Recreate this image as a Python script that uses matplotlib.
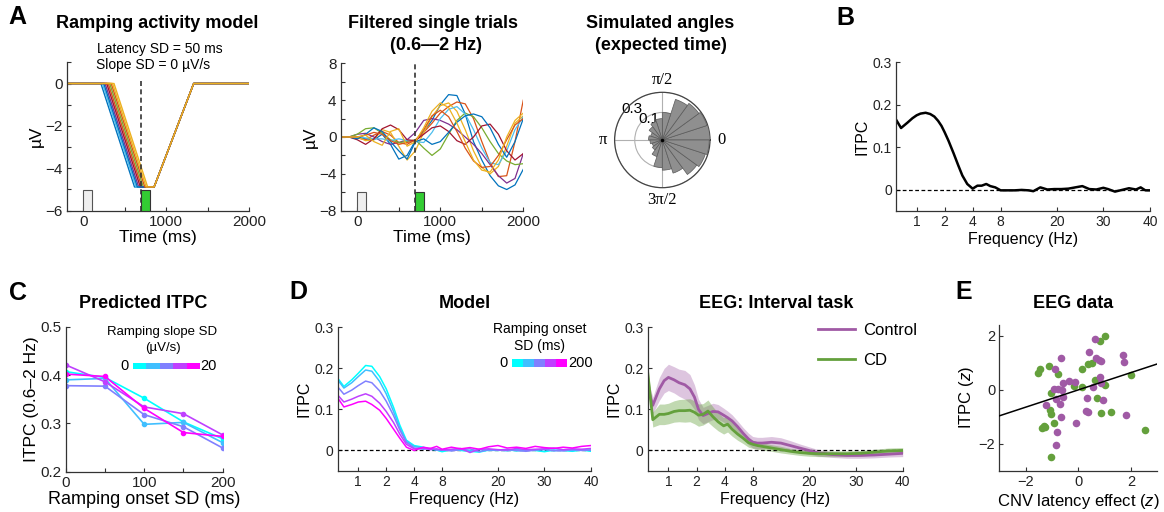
import numpy as np
import matplotlib
matplotlib.use('Agg')
import matplotlib.pyplot as plt
import matplotlib.patches as patches
from matplotlib.colors import ListedColormap

plt.rcParams['font.family'] = ['Liberation Sans', 'DejaVu Sans']
plt.rcParams['mathtext.fontset'] = 'custom'
plt.rcParams['mathtext.rm'] = 'Liberation Sans'
plt.rcParams['mathtext.it'] = 'Liberation Sans:italic'

# ---------------- data ----------------
matlab_colors = ['#0072BD', '#D95319', '#EDB120', '#7E2F8E', '#77AC30', '#4DBEEE', '#A2142F']
cool5 = ['#00FFFF', '#40BFFF', '#8080FF', '#BF40FF', '#FF00FF']

# A: ramping model (ms, uV)
ramp_onsets = [212, 300, 370, 262, 318, 230, 282, 246, 336, 352]
ramp_dur = 405
ramp_depth = -4.88
return_start = 853
return_end = 1330

# A: filtered single trials, sampled every 100 ms
trial_t = [-200, -100, 0, 100, 200, 300, 400, 500, 600, 700, 800, 900, 1000,
           1100, 1200, 1300, 1400, 1500, 1600, 1700, 1800, 1900, 2000]
trial_v = [
    [0, 0, 0, -0.2, -0.3, 0.3, -0.8, -2.4, -2.0, -0.4, 0.6, 1.8, 3.5, 4.6, 4.5, 2.5, -0.5, -2.5, -4.2, -5.3, -5.7, -5.2, -3.5],
    [0, 0, -0.1, -0.3, 0.2, 0.6, 0.2, -0.6, -0.8, -0.3, 0.5, 1.5, 2.6, 3.3, 3.8, 3.6, 2.0, -0.5, -2.8, -4.3, -4.2, -0.5, 4.0],
    [0, 0, 0, -0.4, -0.3, 0.8, 0.5, -1.0, -2.5, -1.5, 0.5, 2.2, 3.4, 3.7, 2.8, 0.8, -1.5, -3.3, -4.0, -3.2, -1.0, 1.5, 2.3],
    [0, 0, 0.3, 0.4, 0.0, -0.5, -0.8, -0.6, -0.3, 0.5, 1.8, 2.0, 1.8, 1.4, 0.8, 0.0, -0.8, -1.8, -3.0, -4.2, -5.0, -4.5, -1.8],
    [0, 0, 0.3, 0.9, 1.0, 0.4, -0.3, -0.6, -0.5, -0.3, -1.2, -2.0, -1.3, 0.3, 1.8, 2.6, 2.2, 1.0, -0.5, -1.8, -2.6, -3.0, -2.9],
    [0, 0, 0, -0.1, -0.2, -0.2, -0.4, -0.2, -0.4, -0.5, -0.6, 0.5, 2.0, 3.0, 3.3, 2.5, 0.8, -1.2, -2.8, -3.0, -1.5, 0.8, 2.2],
    [0, 0, -0.3, -0.8, -0.2, 0.9, 1.3, 0.8, -0.3, -0.4, 0.3, 1.0, 1.2, 0.6, -0.4, -0.8, 0.0, 1.2, 1.4, 0.3, -1.5, -2.5, -1.8],
    [0, 0, -0.2, 0.3, 1.0, 0.6, -0.5, -1.5, -2.4, -0.5, -0.2, -0.8, -0.5, 0.5, 1.6, 2.3, 2.5, 2.2, 1.0, -0.8, -2.2, -0.5, 2.0],
    [0, 0, 0, 0.2, 0.5, 0.3, -0.4, -0.8, -0.6, -0.4, 0.8, 2.3, 2.9, 2.2, 0.6, -1.2, -2.6, -3.3, -3.2, -2.0, -0.3, 1.3, 2.0],
    [0, 0, 0, 0.2, -0.5, -0.9, 0.6, 0.9, -1.0, -0.5, 1.0, 2.8, 3.7, 3.2, 1.5, -0.5, -2.5, -3.6, -3.8, -2.5, 0.0, 1.8, 2.6],
]

# A: simulated phase angles (20 bins)
angle_bins_deg = [9, 27, 45, 63, 81, 99, 117, 135, 153, 171, 189, 207, 225, 243, 261, 279, 297, 315, 333, 351]
angle_prob = [0.30, 0.29, 0.27, 0.24, 0.10, 0.06, 0.05, 0.035, 0.02, 0.025,
              0.02, 0.015, 0.02, 0.04, 0.10, 0.12, 0.16, 0.24, 0.27, 0.29]

# B: model ITPC spectrum
freq_b = [0.6, 0.68, 0.8, 0.9, 1.0, 1.1, 1.25, 1.4, 1.55, 1.7, 1.85, 2.0, 2.2, 2.5, 2.8, 3.1, 3.5,
          4.0, 4.5, 5.0, 5.6, 6.2, 7.0, 8.0, 9.5, 11, 12.5, 14, 15, 16.5, 18, 19.5, 21, 22.5, 24,
          25.5, 27, 28.5, 30, 31, 32.5, 34, 35.5, 37, 38, 39, 40]
itpc_b = [0.165, 0.145, 0.158, 0.168, 0.175, 0.179, 0.181, 0.178, 0.172, 0.162, 0.150, 0.135,
          0.115, 0.085, 0.057, 0.033, 0.013, 0.002, 0.009, 0.009, 0.013, 0.008, 0.005, -0.002,
          -0.002, -0.002, -0.001, -0.002, -0.004, 0.005, 0.000, 0.001, 0.001, 0.002, 0.005,
          0.008, 0.001, 0.000, 0.004, 0.001, -0.005, -0.001, 0.003, 0.000, 0.005, -0.002, -0.002]

# C: predicted ITPC vs onset SD, one line per slope SD (0, 5, 10, 15, 20)
onset_sd = [0, 50, 100, 150, 200]
pred_itpc = [
    [0.407, 0.395, 0.352, 0.303, 0.268],
    [0.390, 0.393, 0.298, 0.302, 0.260],
    [0.378, 0.377, 0.318, 0.293, 0.249],
    [0.421, 0.386, 0.334, 0.320, 0.276],
    [0.402, 0.397, 0.331, 0.281, 0.273],
]

# D: model spectra, one line per onset SD (0 .. 200 ms)
freq_d = [0.6, 0.7, 0.85, 1.0, 1.2, 1.4, 1.7, 2.0, 2.4, 2.8, 3.3, 4, 5, 6, 7, 8, 10, 12, 14, 16,
          18, 20, 22, 24, 26, 28, 30, 32, 34, 36, 38, 40]
model_itpc = [
    [0.176, 0.156, 0.172, 0.188, 0.207, 0.205, 0.180, 0.150, 0.105, 0.062, 0.025, 0.012, 0.008, 0.003, 0.001, -0.003,
     0.002, 0.000, -0.002, -0.004, 0.001, 0.000, 0.002, -0.001, 0.001, 0.000, -0.003, 0.001, 0.000, -0.002, 0.001, -0.002],
    [0.172, 0.152, 0.165, 0.180, 0.196, 0.193, 0.168, 0.138, 0.095, 0.055, 0.022, 0.010, 0.006, 0.004, 0.002, 0.001,
     0.000, 0.003, -0.001, 0.002, 0.000, 0.001, -0.001, 0.002, 0.000, 0.001, 0.002, -0.001, 0.001, 0.000, 0.002, 0.001],
    [0.155, 0.137, 0.147, 0.158, 0.169, 0.165, 0.145, 0.120, 0.085, 0.050, 0.020, 0.006, 0.003, 0.005, 0.001, 0.002,
     -0.001, 0.002, 0.004, -0.003, 0.002, 0.001, 0.003, 0.000, -0.002, 0.001, 0.003, 0.000, -0.001, 0.002, 0.000, 0.001],
    [0.135, 0.118, 0.125, 0.132, 0.138, 0.132, 0.115, 0.095, 0.068, 0.040, 0.015, 0.004, 0.006, 0.002, 0.004, 0.001,
     0.003, 0.005, -0.005, 0.003, 0.004, 0.002, 0.001, 0.005, 0.002, 0.003, 0.004, 0.006, 0.002, 0.004, 0.003, 0.005],
    [0.128, 0.106, 0.112, 0.118, 0.120, 0.112, 0.098, 0.078, 0.052, 0.030, 0.008, 0.000, 0.008, 0.005, 0.010, 0.003,
     0.008, 0.004, 0.007, 0.003, 0.009, 0.012, 0.006, 0.008, 0.005, 0.010, 0.007, 0.005, 0.008, 0.006, 0.010, 0.012],
]

# D: EEG interval task (mean and SEM)
freq_eeg = [0.6, 0.68, 0.8, 0.9, 1.0, 1.15, 1.3, 1.5, 1.7, 1.9, 2.1, 2.35, 2.65, 3.0, 3.4, 3.9, 4.3, 4.8,
            5.5, 6.3, 7.2, 8, 9, 10, 12, 14, 16, 18, 20, 22, 25, 28, 31, 34, 37, 40]
control_mean = [0.155, 0.110, 0.150, 0.170, 0.178, 0.172, 0.165, 0.160, 0.150, 0.130, 0.100, 0.085,
                0.090, 0.095, 0.094, 0.086, 0.080, 0.072, 0.058, 0.042, 0.028, 0.020, 0.018, 0.018,
                0.020, 0.018, 0.012, 0.006, 0.000, -0.006, -0.010, -0.012, -0.012, -0.011, -0.009, -0.007]
control_sem = [0.020, 0.020, 0.028, 0.030, 0.032, 0.032, 0.033, 0.035, 0.035, 0.030, 0.025, 0.020,
               0.020, 0.020, 0.018, 0.017, 0.016, 0.015, 0.014, 0.014, 0.014, 0.014, 0.014, 0.014,
               0.014, 0.013, 0.012, 0.010, 0.009, 0.008, 0.007, 0.007, 0.007, 0.007, 0.007, 0.008]
cd_mean = [0.190, 0.075, 0.088, 0.088, 0.090, 0.095, 0.097, 0.097, 0.098, 0.093, 0.086, 0.088,
           0.096, 0.082, 0.070, 0.060, 0.064, 0.052, 0.040, 0.030, 0.019, 0.015, 0.012, 0.010,
           0.006, 0.002, -0.002, -0.005, -0.007, -0.008, -0.008, -0.008, -0.007, -0.004, -0.001, 0.000]
cd_sem = [0.015, 0.018, 0.025, 0.025, 0.025, 0.026, 0.027, 0.028, 0.028, 0.028, 0.027, 0.026,
          0.027, 0.024, 0.022, 0.020, 0.019, 0.017, 0.015, 0.013, 0.011, 0.010, 0.009, 0.009,
          0.008, 0.008, 0.007, 0.007, 0.007, 0.007, 0.007, 0.007, 0.007, 0.007, 0.007, 0.007]

# E: EEG data (z-scores)
cnv_green = [1.02, 0.81, -1.45, -1.54, -1.10, -0.78, 0.13, 0.36, 0.52, 0.65, -0.16, 0.13, 1.03,
             2.00, -1.03, -1.08, -1.05, -0.93, -1.32, -1.26, -1.39, 0.71, 0.88, 1.24, 2.53, -1.05]
itpc_green = [1.98, 1.80, 0.78, 0.64, 0.88, 0.58, 0.76, 0.94, 1.00, 0.36, 0.15, 0.12, 0.17,
              0.54, -0.12, -0.74, -0.89, -1.22, -1.35, -1.38, -1.42, -0.30, -0.87, -0.80, -1.48, -2.48]
cnv_purple = [0.62, 0.40, -0.66, 1.69, 1.74, 0.68, 0.77, 0.88, -0.89, -0.58, -0.35, -0.12, 0.84,
              0.57, 0.85, -0.93, -0.76, -0.62, -0.84, -0.57, -0.71, -1.21, 0.34, 0.92, 0.30, 0.37,
              -0.67, -0.09, 1.81, -0.80, -0.84]
itpc_purple = [1.88, 1.40, 1.17, 1.28, 1.05, 1.19, 1.09, 1.06, 0.78, 0.27, 0.32, 0.31, 0.48,
               0.11, 0.27, 0.05, 0.05, 0.00, -0.34, -0.28, -0.54, -0.56, -0.30, -0.38, -0.77, -0.80,
               -1.01, -1.22, -0.92, -1.54, -2.05]
fit_slope = 0.32
fit_intercept = 0.0

# ---------------- layout helpers ----------------
W, H = 1164, 512
fig = plt.figure(figsize=(W / 100, H / 100), dpi=100)
AX_COL = '#333333'
purple = '#A05AA5'
green = '#64A03C'
freq_ticks = [1, 2, 4, 8, 20, 30, 40]


def px_axes(l, r, t, b, **kw):
    return fig.add_axes([l / W, 1 - b / H, (r - l) / W, (b - t) / H], **kw)


def ftext(x, y, s, **kw):
    kw.setdefault('ha', 'center')
    kw.setdefault('va', 'center')
    return fig.text(x / W, 1 - y / H, s, **kw)


def style(ax, size=10):
    for s in ['top', 'right']:
        ax.spines[s].set_visible(False)
    for s in ['left', 'bottom']:
        ax.spines[s].set_color(AX_COL)
        ax.spines[s].set_linewidth(0.9)
    ax.tick_params(direction='in', length=3, width=0.8, colors=AX_COL,
                   labelsize=size, labelcolor='#222222', pad=3)
    ax.set_facecolor('none')


def f2p(f):
    f = np.asarray(f, dtype=float)
    return np.where(f <= 8, np.log2(np.maximum(f, 1e-3)), 3 + (f - 8) / 6)


def p2f(p):
    p = np.asarray(p, dtype=float)
    return np.where(p <= 3, 2 ** np.clip(p, -20, 3), 8 + 6 * (p - 3))


def freq_axis(ax):
    ax.set_xscale('function', functions=(f2p, p2f))
    ax.set_xlim(0.6, 40)
    ax.set_xticks(freq_ticks)
    ax.set_xticklabels([str(f) for f in freq_ticks])
    ax.minorticks_off()
    ax.set_ylim(-0.05, 0.3)
    ax.set_yticks([0, 0.1, 0.2, 0.3])
    ax.set_yticklabels(['0', '0.1', '0.2', '0.3'])
    ax.axhline(0, ls='--', color='k', lw=0.9, dashes=(3, 2))
    ax.set_xlabel('Frequency (Hz)', fontsize=11.5, labelpad=2)
    ax.set_ylabel('ITPC', fontsize=11.5, labelpad=2)


def stim_boxes(ax, y0, h):
    ax.add_patch(patches.Rectangle((0, y0), 100, h, fc='#efefef', ec='#555555', lw=0.8, zorder=3))
    ax.add_patch(patches.Rectangle((700, y0), 100, h, fc='#33CC33', ec='#333333', lw=0.8, zorder=3))


def time_axis(ax):
    ax.set_xlim(-200, 2000)
    ax.set_xticks([0, 500, 1000, 1500, 2000])
    ax.set_xticklabels(['0', '', '1000', '', '2000'])
    ax.set_xlabel('Time (ms)', fontsize=12.5, labelpad=1)
    ax.set_ylabel('µV', fontsize=12.5, labelpad=1)


def colorbar_strip(l, r, t, b, lo, hi, lo_x, hi_x):
    cax = px_axes(l, r, t, b)
    cax.imshow(np.arange(len(cool5))[None, :], cmap=ListedColormap(cool5), aspect='auto')
    cax.axis('off')
    ftext(lo_x, (t + b) / 2, lo, fontsize=10.5)
    ftext(hi_x, (t + b) / 2, hi, fontsize=10.5)


# ---------------- A: ramping model ----------------
ax = px_axes(66.7, 249.3, 62.3, 210.7)
style(ax, 11)
for i, t0 in enumerate(ramp_onsets):
    ax.plot([-200, t0, t0 + ramp_dur, return_start, return_end, 2000],
            [0, 0, ramp_depth, ramp_depth, 0, 0], color=matlab_colors[i % 7], lw=1)
stim_boxes(ax, -6, 1)
ax.plot([700, 700], [-6, 0.2], color='#333333', ls='--', lw=1.2, dashes=(3, 2), zorder=4)
time_axis(ax)
ax.set_ylim(-6, 1)
ax.set_yticks(range(-6, 2))
ax.set_yticklabels(['−6', '', '−4', '', '−2', '', '0', ''])

# ---------------- A: filtered single trials ----------------
ax = px_axes(340.7, 523.3, 63.3, 210.7)
style(ax, 11)
for i, v in enumerate(trial_v):
    ax.plot(trial_t, v, color=matlab_colors[i % 7], lw=0.9)
stim_boxes(ax, -8, 2)
ax.plot([700, 700], [-8, 8], color='#333333', ls='--', lw=1.2, dashes=(3, 2), zorder=4)
time_axis(ax)
ax.set_ylim(-8, 8)
ax.set_yticks(range(-8, 9, 2))
ax.set_yticklabels(['−8', '', '−4', '', '0', '', '4', '', '8'])

# ---------------- A: polar histogram ----------------
pax = px_axes(614.6, 710.0, 92.3, 187.7, projection='polar')
pax.set_rscale('function', functions=(np.sqrt, np.square))
pax.bar(np.deg2rad(angle_bins_deg), angle_prob, width=np.deg2rad(18), bottom=0,
        color='#8f8f8f', edgecolor='#5a5a5a', lw=0.5, zorder=3)
pax.set_rlim(0, 0.3)
pax.set_thetagrids([0, 90, 180, 270], ['0', 'π/2', 'π', '3π/2'])
for lbl in pax.get_xticklabels():
    lbl.set_fontfamily('Liberation Serif')
    lbl.set_fontsize(12)
pax.tick_params(axis='x', pad=-2)
pax.set_rgrids([0.1, 0.3], ['0.1', '0.3'], angle=150, fontsize=11)
pax.grid(color='#b0b0b0', lw=0.8)
pax.spines['polar'].set_color('#444444')
pax.spines['polar'].set_linewidth(0.9)
pax.plot([0], [0], 'k.', ms=3, zorder=5)

# ---------------- B ----------------
ax = px_axes(896, 1150, 62.3, 210.7)
style(ax)
freq_axis(ax)
ax.plot(freq_b, itpc_b, color='k', lw=1.8)

# ---------------- C ----------------
ax = px_axes(65.7, 222.7, 326.7, 471.7)
style(ax, 11)
for i, vals in enumerate(pred_itpc):
    ax.plot(onset_sd, vals, color=cool5[i], lw=1.2, marker='o', ms=3)
ax.set_xlim(0, 200)
ax.set_ylim(0.2, 0.5)
ax.set_xticks([0, 50, 100, 150, 200])
ax.set_xticklabels(['0', '', '100', '', '200'])
ax.set_yticks([0.2, 0.3, 0.4, 0.5])
ax.set_yticklabels(['0.2', '0.3', '0.4', '0.5'])
ax.set_xlabel('Ramping onset SD (ms)', fontsize=13, labelpad=1)
ax.set_ylabel('ITPC (0.6–2 Hz)', fontsize=12.5, labelpad=1)
ftext(161.7, 331.7, 'Ramping slope SD', fontsize=9.5)
ftext(163.3, 347.7, '(µV/s)', fontsize=9.5)
colorbar_strip(132.7, 199, 362.7, 369.3, '0', '20', 125, 208.5)

# ---------------- D: model ----------------
ax = px_axes(337.7, 591, 327.3, 471)
style(ax)
freq_axis(ax)
for i, vals in enumerate(model_itpc):
    ax.plot(freq_d, vals, color=cool5[i], lw=1.1)
ftext(540, 329, 'Ramping onset', fontsize=10)
ftext(540, 345.7, 'SD (ms)', fontsize=10)
colorbar_strip(511.7, 566, 359.3, 367.3, '0', '200', 503.3, 581)

# ---------------- D: EEG ----------------
ax = px_axes(647.7, 902.7, 327.3, 471)
style(ax)
freq_axis(ax)
cm, cs = np.array(control_mean), np.array(control_sem)
dm, ds = np.array(cd_mean), np.array(cd_sem)
ax.fill_between(freq_eeg, cm - cs, cm + cs, color=purple, alpha=0.35, lw=0)
ax.fill_between(freq_eeg, dm - ds, dm + ds, color=green, alpha=0.4, lw=0)
ax.plot(freq_eeg, cm, color=purple, lw=2, label='Control')
ax.plot(freq_eeg, dm, color=green, lw=2, label='CD')
ax.legend(loc='upper left', bbox_to_anchor=(818 / W, 1 - 323 / H), bbox_transform=fig.transFigure,
          frameon=False, fontsize=12, handlelength=2.2, handletextpad=0.5, labelspacing=0.9,
          borderaxespad=0, borderpad=0)

# ---------------- E ----------------
ax = px_axes(999.3, 1157.3, 325, 471)
style(ax, 10.5)
ax.scatter(cnv_green, itpc_green, s=30, color=green, lw=0, zorder=3)
ax.scatter(cnv_purple, itpc_purple, s=30, color=purple, lw=0, zorder=3)
xl = np.array([-3, 3])
ax.plot(xl, fit_slope * xl + fit_intercept, color='k', lw=1.1, zorder=4)
ax.set_xlim(-3, 3)
ax.set_ylim(-3, 2.4)
ax.set_xticks([-2, 0, 2])
ax.set_xticklabels(['−2', '0', '2'])
ax.set_yticks([-2, 0, 2])
ax.set_yticklabels(['−2', '0', '2'])
ax.set_xlabel('CNV latency effect ($\\it{z}$)', fontsize=12, labelpad=2)
ax.set_ylabel('ITPC ($\\it{z}$)', fontsize=12, labelpad=2)

# ---------------- titles and panel letters ----------------
tkw = dict(fontsize=13, fontweight='bold')
ftext(157, 24, 'Ramping activity model', **tkw)
ftext(160, 49.3, 'Latency SD = 50 ms', fontsize=10)
ftext(153.3, 65, 'Slope SD = 0 µV/s', fontsize=10)
ftext(433, 23.3, 'Filtered single trials', **tkw)
ftext(435.7, 45, '(0.6—2 Hz)', **tkw)
ftext(660.5, 23.3, 'Simulated angles', **tkw)
ftext(660.8, 46, '(expected time)', **tkw)
ftext(143.3, 303.3, 'Predicted ITPC', **tkw)
ftext(465, 303.3, 'Model', **tkw)
ftext(776.2, 303.3, 'EEG: Interval task', **tkw)
ftext(1073.3, 303.3, 'EEG data', **tkw)

lkw = dict(fontsize=18, fontweight='bold')
ftext(17.5, 17.5, 'A', **lkw)
ftext(845, 18.3, 'B', **lkw)
ftext(18.3, 292.7, 'C', **lkw)
ftext(298.3, 291.7, 'D', **lkw)
ftext(963.3, 291.7, 'E', **lkw)

fig.savefig('out.png', dpi=100)
